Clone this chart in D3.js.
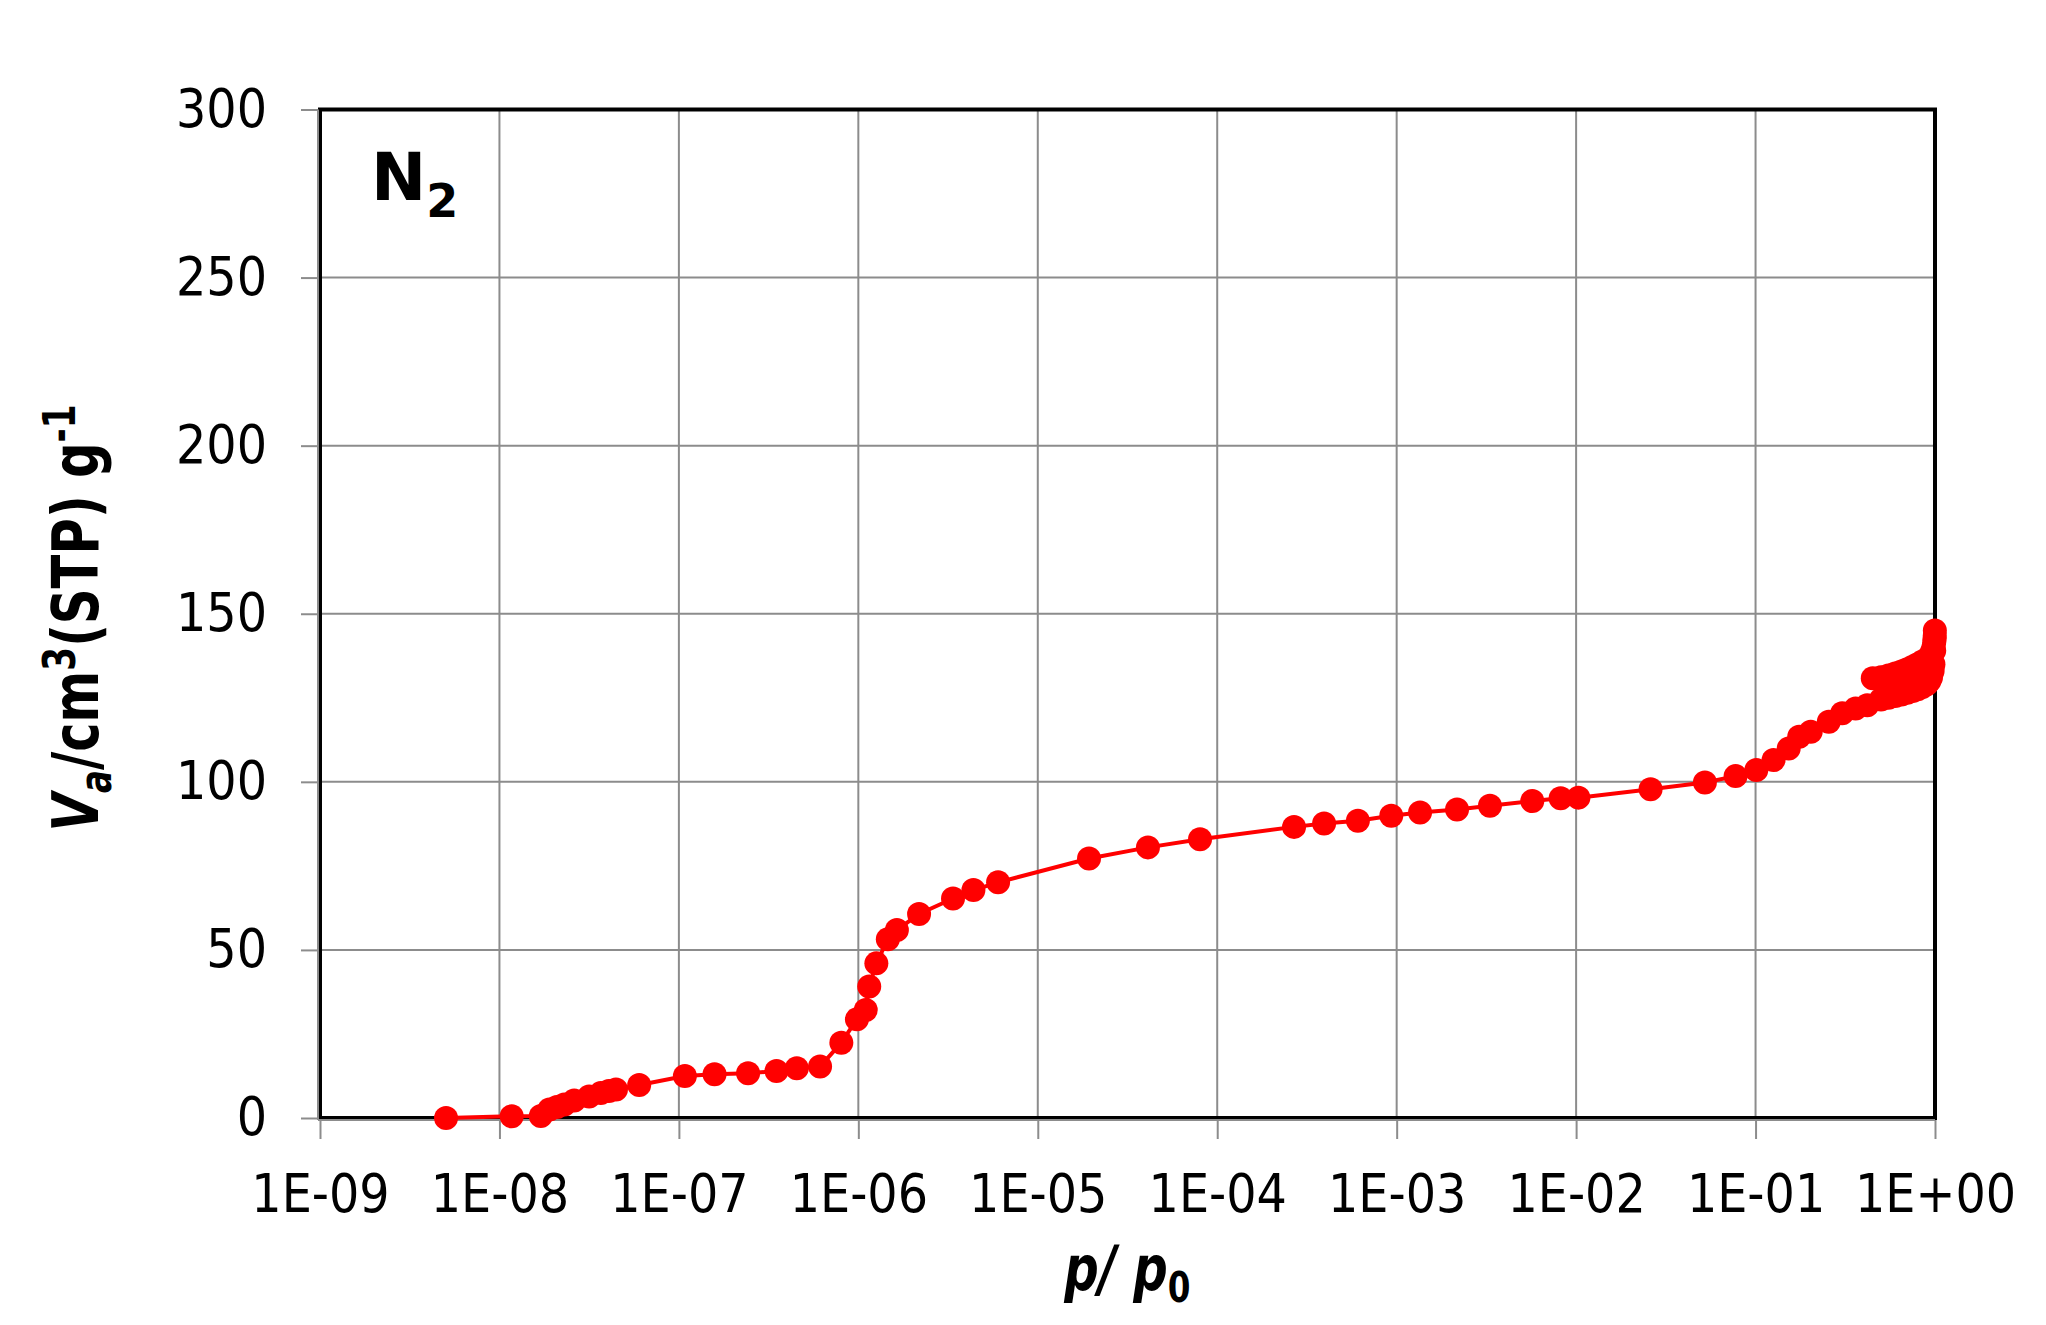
<!DOCTYPE html>
<html lang="en">
  <head>
    <meta charset="utf-8" />
    <title>N2 isotherm</title>
    <script src="https://d3js.org/d3.v7.min.js"></script>
    <style>
      body {
        margin: 0;
        background: white;
      }
      .grid line {
        stroke: #8c8c8c;
        stroke-width: 2;
      }
      .axis path {
        display: none;
      }
      .axis line {
        stroke: #8c8c8c;
        stroke-width: 2;
      }
      .axis text {
        font-family: "DejaVu Sans Condensed", "DejaVu Sans", sans-serif;
        font-size: 53px;
        fill: black;
      }
      .title {
        font-family: "DejaVu Sans", sans-serif;
        font-weight: bold;
        fill: black;
      }
    </style>
  </head>
  <body>
    <svg width="2046" height="1325"></svg>
    <script>
      // relative pressure p/p0 and adsorbed volume (cm3 STP / g)
      const pressure = [
        5.04e-9, 1.17e-8, 1.7e-8, 1.9e-8, 2.09e-8, 2.3e-8, 2.61e-8, 3.16e-8,
        3.67e-8, 4.07e-8, 4.46e-8, 6.01e-8, 1.08e-7, 1.58e-7, 2.43e-7, 3.5e-7,
        4.54e-7, 6.12e-7, 8.04e-7, 9.82e-7, 1.1e-6, 1.15e-6, 1.26e-6, 1.46e-6,
        1.64e-6, 2.18e-6, 3.37e-6, 4.38e-6, 6.01e-6, 1.93e-5, 4.11e-5, 8.02e-5,
        2.68e-4, 3.94e-4, 6.08e-4, 9.33e-4, 1.35e-3, 2.17e-3, 3.31e-3, 5.7e-3,
        8.2e-3, 1.03e-2, 2.6e-2, 5.22e-2, 7.74e-2, 0.101, 0.126, 0.153, 0.175,
        0.203, 0.256, 0.304, 0.361, 0.419, 0.5, 0.55, 0.6, 0.65, 0.7, 0.75, 0.8,
        0.85, 0.9, 0.93, 0.95, 0.97, 0.98, 0.99, 0.995, 0.998,
        // desorption
        0.997, 0.99, 0.98, 0.97, 0.95, 0.9, 0.85, 0.8, 0.75, 0.7, 0.65, 0.6,
        0.55, 0.5, 0.45,
      ];
      const volume = [
        0, 0.5, 0.6, 2.5, 3.3, 4.0, 5.2, 6.4, 7.4, 8.0, 8.5, 9.8, 12.5, 13.0,
        13.3, 14.0, 14.8, 15.3, 22.4, 29.4, 32.1, 39.1, 46.0, 53.2, 55.9, 60.7,
        65.3, 67.8, 70.1, 77.2, 80.5, 82.9, 86.6, 87.6, 88.4, 89.9, 90.9, 91.8,
        92.9, 94.3, 95.1, 95.3, 97.8, 99.8, 101.7, 103.5, 106.5, 109.9, 113.4,
        114.9, 117.9, 120.4, 121.8, 122.8, 124.5, 125.0, 125.5, 126.0, 126.5,
        127.0, 127.5, 128.2, 129.0, 130.0, 131.0, 133.0, 135.0, 139.0, 142.5,
        145.0,
        // desorption
        143.5, 141.5, 140.0, 139.0, 138.0, 136.5, 135.8, 135.0, 134.2, 133.5,
        132.8, 132.2, 131.6, 131.1, 130.8,
      ];
      const xTicks = [1e-9, 1e-8, 1e-7, 1e-6, 1e-5, 1e-4, 1e-3, 1e-2, 1e-1, 1];
      const yTicks = [0, 50, 100, 150, 200, 250, 300];

      const svg = d3.select("svg");
      const plotLeft = 320,
        plotRight = 1935,
        plotTop = 109.5,
        plotBottom = 1118;

      const x = d3.scaleLog().domain([1e-9, 1]).range([plotLeft, plotRight]);
      const y = d3.scaleLinear().domain([0, 300]).range([plotBottom, plotTop]);

      const fmtExp = (d) => {
        const e = Math.round(Math.log10(d));
        return "1E" + (e < 0 ? "-" : "+") + String(Math.abs(e)).padStart(2, "0");
      };

      // gridlines
      const grid = svg.append("g").attr("class", "grid");
      grid
        .selectAll(".gx")
        .data(xTicks)
        .join("line")
        .attr("x1", (d) => x(d))
        .attr("x2", (d) => x(d))
        .attr("y1", plotTop)
        .attr("y2", plotBottom);
      grid
        .selectAll(".gy")
        .data(yTicks)
        .join("line")
        .attr("x1", plotLeft)
        .attr("x2", plotRight)
        .attr("y1", (d) => y(d))
        .attr("y2", (d) => y(d));

      // plot frame
      svg
        .append("rect")
        .attr("x", plotLeft)
        .attr("y", plotTop)
        .attr("width", plotRight - plotLeft)
        .attr("height", plotBottom - plotTop)
        .attr("fill", "none")
        .attr("stroke", "black")
        .attr("stroke-width", 4);

      // axes
      const xAxis = d3
        .axisBottom(x)
        .tickValues(xTicks)
        .tickSize(19)
        .tickPadding(35)
        .tickFormat(fmtExp);
      svg
        .append("g")
        .attr("class", "axis")
        .attr("transform", "translate(0," + (plotBottom + 2) + ")")
        .call(xAxis);
      svg
        .append("line")
        .attr("x1", plotLeft - 2)
        .attr("x2", plotRight)
        .attr("y1", plotBottom + 2)
        .attr("y2", plotBottom + 2)
        .attr("stroke", "#8c8c8c")
        .attr("stroke-width", 2);

      const yAxis = d3
        .axisLeft(y)
        .tickValues(yTicks)
        .tickSize(17)
        .tickPadding(34);
      svg
        .append("g")
        .attr("class", "axis")
        .attr("transform", "translate(" + (plotLeft - 2) + ",0)")
        .call(yAxis);
      svg
        .append("line")
        .attr("x1", plotLeft - 2)
        .attr("x2", plotLeft - 2)
        .attr("y1", plotTop)
        .attr("y2", plotBottom + 2)
        .attr("stroke", "#8c8c8c")
        .attr("stroke-width", 2);

      // series
      const points = pressure.map((p, i) => ({ p: p, v: volume[i] }));
      const line = d3
        .line()
        .x((d) => x(d.p))
        .y((d) => y(d.v));
      svg
        .append("path")
        .datum(points)
        .attr("d", line)
        .attr("fill", "none")
        .attr("stroke", "red")
        .attr("stroke-width", 4);
      svg
        .append("g")
        .selectAll("circle")
        .data(points)
        .join("circle")
        .attr("cx", (d) => x(d.p))
        .attr("cy", (d) => y(d.v))
        .attr("r", 12)
        .attr("fill", "red");

      // N2 label
      const n2 = svg
        .append("text")
        .attr("class", "title")
        .attr("x", 371)
        .attr("y", 200)
        .style("font-size", "66px");
      n2.append("tspan").text("N");
      n2.append("tspan")
        .attr("dy", 17)
        .style("font-size", "46px")
        .text("2");

      // squeeze a title along its own baseline to a given length
      function fitTitle(sel, cx, cy, angle, length) {
        const bb = sel.node().getBBox();
        const k = length / bb.width;
        sel.attr(
          "transform",
          "translate(" + cx + "," + cy + ") rotate(" + angle + ") scale(" + k + ",1) translate(" +
            -(bb.x + bb.width / 2) + ",0)"
        );
      }

      // y title
      const yt = svg
        .append("text")
        .attr("class", "title")
        .style("font-size", "64px");
      yt.append("tspan").style("font-style", "italic").text("V");
      yt.append("tspan")
        .attr("dy", 13)
        .style("font-style", "italic")
        .style("font-size", "44px")
        .text("a");
      yt.append("tspan").attr("dy", -13).text("/cm");
      yt.append("tspan")
        .attr("dy", -23)
        .style("font-size", "44px")
        .text("3");
      yt.append("tspan").attr("dy", 23).text("(STP) g");
      yt.append("tspan")
        .attr("dy", -23)
        .style("font-size", "44px")
        .text("-1");
      fitTitle(yt, 98, 618, -90, 427);

      // x title
      const xt = svg
        .append("text")
        .attr("class", "title")
        .style("font-size", "62px")
        .style("font-style", "italic");
      xt.append("tspan").text("p/ p");
      xt.append("tspan")
        .attr("dy", 12)
        .style("font-size", "42px")
        .style("font-style", "normal")
        .text("0");
      fitTitle(xt, 1127, 1290, 0, 127);
    </script>
  </body>
</html>
